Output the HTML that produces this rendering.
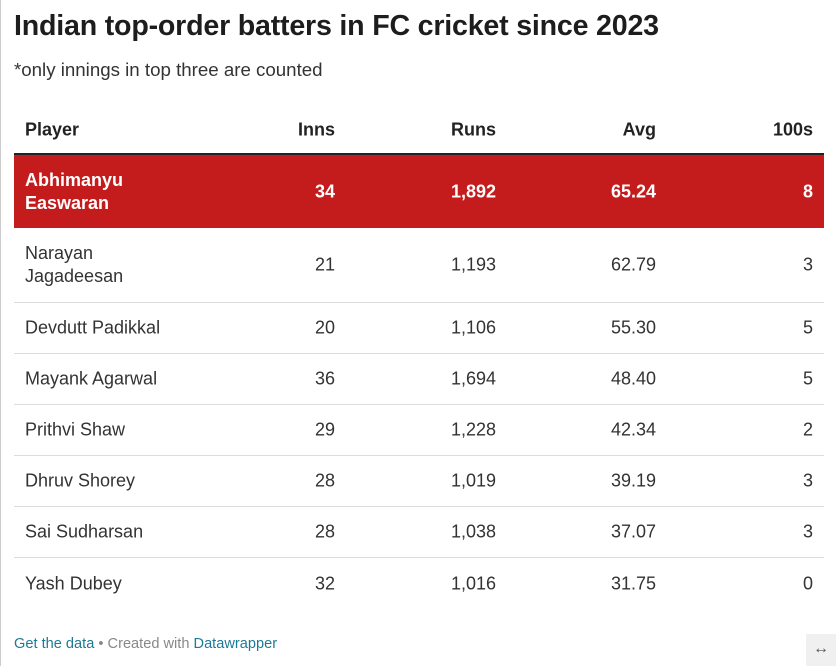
<!DOCTYPE html>
<html><head><meta charset="utf-8"><style>
body{margin:0;width:836px;height:666px;background:#fff;font-family:"Liberation Sans",sans-serif;color:#222;position:relative;overflow:hidden}
.lb{position:absolute;left:0;top:0;width:1px;height:666px;background:#ccc}
.t{position:absolute;left:14px;top:10px;font-size:28.6px;font-weight:bold;color:#1d1d1d;letter-spacing:-0.2px}
.s{position:absolute;left:14px;top:59px;font-size:18.7px;color:#333}
.row{position:absolute;left:14px;width:810px;font-size:18px;color:#333;border-bottom:1px solid #ddd}
.row div{position:absolute;top:50%;transform:translateY(-50%);line-height:23px}
.p{left:11px}.c1{right:489px}.c2{right:328px}.c3{right:168px}.c4{right:11px}
.hd{font-weight:bold;color:#222;border-bottom:2px solid #222}
.hl{background:#c41c1c;color:#fff;font-weight:bold;border-bottom:none}
.f{position:absolute;left:14px;top:636px;font-size:14.6px;color:#888}
.f a{color:#1c7a96;text-decoration:none}
.ic{position:absolute;left:806px;top:634px;width:30px;height:32px;background:#f0f0f0;color:#555;font-size:16px;text-align:center;line-height:30px}
</style></head><body>
<div class="lb"></div>
<div class="t">Indian top-order batters in FC cricket since 2023</div>
<div class="s">*only innings in top three are counted</div>
<div class="row hd" style="top:106px;height:47px"><div class="p">Player</div><div class="c1">Inns</div><div class="c2">Runs</div><div class="c3">Avg</div><div class="c4">100s</div></div>
<div class="row hl" style="top:155px;height:73px"><div class="p">Abhimanyu<br>Easwaran</div><div class="c1">34</div><div class="c2">1,892</div><div class="c3">65.24</div><div class="c4">8</div></div>
<div class="row" style="top:228px;height:74px"><div class="p">Narayan<br>Jagadeesan</div><div class="c1">21</div><div class="c2">1,193</div><div class="c3">62.79</div><div class="c4">3</div></div>
<div class="row" style="top:303px;height:50px"><div class="p">Devdutt Padikkal</div><div class="c1">20</div><div class="c2">1,106</div><div class="c3">55.30</div><div class="c4">5</div></div>
<div class="row" style="top:354px;height:50px"><div class="p">Mayank Agarwal</div><div class="c1">36</div><div class="c2">1,694</div><div class="c3">48.40</div><div class="c4">5</div></div>
<div class="row" style="top:405px;height:50px"><div class="p">Prithvi Shaw</div><div class="c1">29</div><div class="c2">1,228</div><div class="c3">42.34</div><div class="c4">2</div></div>
<div class="row" style="top:456px;height:50px"><div class="p">Dhruv Shorey</div><div class="c1">28</div><div class="c2">1,019</div><div class="c3">39.19</div><div class="c4">3</div></div>
<div class="row" style="top:507px;height:50px"><div class="p">Sai Sudharsan</div><div class="c1">28</div><div class="c2">1,038</div><div class="c3">37.07</div><div class="c4">3</div></div>
<div class="row" style="top:558px;height:51px;border-bottom:none"><div class="p">Yash Dubey</div><div class="c1">32</div><div class="c2">1,016</div><div class="c3">31.75</div><div class="c4">0</div></div>
<div class="f"><a>Get the data</a> • Created with <a>Datawrapper</a></div>
<div class="ic">↔</div>
</body></html>
